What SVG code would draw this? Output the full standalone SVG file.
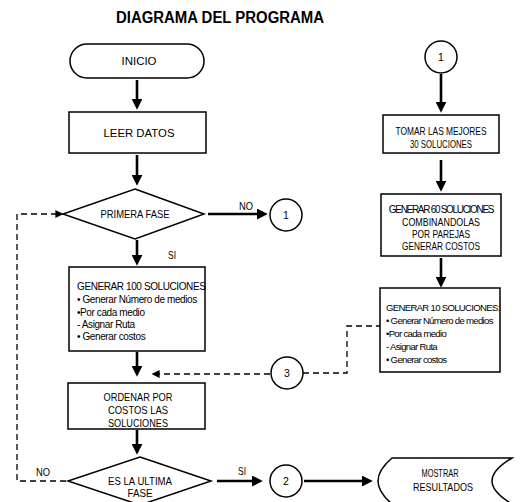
<svg xmlns="http://www.w3.org/2000/svg" width="521" height="502" viewBox="0 0 521 502">
<style>
  .bg{fill:#fff}
  .shape{fill:#fff;stroke:#000;stroke-width:1.5}
  .t{font-family:"Liberation Sans",Arial,sans-serif;font-size:10.5px;fill:#000;text-anchor:middle}
  .tc{font-family:"Liberation Sans",Arial,sans-serif;font-size:10px;fill:#000;text-anchor:middle;letter-spacing:-1.3px}
  .tl{font-family:"Liberation Sans",Arial,sans-serif;font-size:10px;fill:#000;letter-spacing:-0.4px}
  .tr{font-family:"Liberation Sans",Arial,sans-serif;font-size:9.6px;fill:#000;letter-spacing:-0.7px}
  .title{font-family:"Liberation Sans",Arial,sans-serif;font-size:16px;font-weight:bold;fill:#000;text-anchor:middle}
  .flow{fill:none;stroke:#000;stroke-width:2.6;marker-end:url(#ah)}
  .dash{fill:none;stroke:#000;stroke-width:1.3;stroke-dasharray:6 4}
</style>
<defs>
  <marker id="ah" viewBox="0 0 10 10" markerUnits="userSpaceOnUse" markerWidth="11" markerHeight="11" refX="2" refY="5" orient="auto">
    <path d="M0,0 L10,5 L0,10 z" fill="#000"/>
  </marker>
  <marker id="ahs" viewBox="0 0 10 10" markerUnits="userSpaceOnUse" markerWidth="8" markerHeight="8" refX="2" refY="5" orient="auto">
    <path d="M0,0 L10,5 L0,10 z" fill="#000"/>
  </marker>
</defs>
<rect class="bg" x="0" y="0" width="521" height="502"/>
<text class="title" x="220" y="23" textLength="208" lengthAdjust="spacingAndGlyphs">DIAGRAMA DEL PROGRAMA</text>

<g id="connectors">
  <path class="flow" d="M137 80 V101"/>
  <path class="flow" d="M137 155 V177"/>
  <path class="flow" d="M208 214 H259"/>
  <path class="flow" d="M137 240 V257"/>
  <path class="flow" d="M137 352 V368"/>
  <path class="flow" d="M137 430 V446"/>
  <path class="flow" d="M217 481 H254"/>
  <path class="flow" d="M304 481 H364"/>
  <path class="flow" d="M441 74 V104"/>
  <path class="flow" d="M441 160 V183"/>
  <path class="flow" d="M441 258 V279"/>
  <path class="dash" d="M66 481 H17 V214 H57" marker-end="url(#ahs)"/>
  <path class="dash" d="M270 374 H158" marker-end="url(#ahs)"/>
  <path class="dash" d="M303 373 H347 V326 H380"/>
  <text class="t" x="246" y="210" textLength="14" lengthAdjust="spacingAndGlyphs">NO</text>
  <text class="t" x="172" y="259" textLength="8" lengthAdjust="spacingAndGlyphs">SI</text>
  <text class="t" x="43" y="476" textLength="14" lengthAdjust="spacingAndGlyphs">NO</text>
  <text class="t" x="242" y="475" textLength="8" lengthAdjust="spacingAndGlyphs">SI</text>
</g>

<g id="inicio">
  <rect class="shape" x="70" y="44" width="134" height="34" rx="17"/>
  <text class="t" x="139" y="65" textLength="35" lengthAdjust="spacingAndGlyphs">INICIO</text>
</g>
<g id="leer-datos">
  <rect class="shape" x="69" y="112" width="137" height="41"/>
  <text class="t" x="139" y="137" textLength="71" lengthAdjust="spacingAndGlyphs">LEER DATOS</text>
</g>
<g id="primera-fase">
  <polygon class="shape" points="135,189 204,214 135,239 63,214"/>
  <text class="t" x="135" y="218" textLength="69" lengthAdjust="spacingAndGlyphs">PRIMERA FASE</text>
</g>
<g id="conector-1a">
  <circle class="shape" cx="286" cy="215" r="16"/>
  <text class="t" x="286" y="219">1</text>
</g>
<g id="generar-100">
  <rect class="shape" x="69" y="267" width="136" height="84"/>
  <text class="tl" x="77" y="290">GENERAR 100 SOLUCIONES</text>
  <text class="tl" x="77" y="303">• Generar Número de medios</text>
  <text class="tl" x="77" y="316">•Por cada medio</text>
  <text class="tl" x="77" y="328"> - Asignar Ruta</text>
  <text class="tl" x="77" y="340">• Generar costos</text>
</g>
<g id="ordenar">
  <rect class="shape" x="68" y="383" width="137" height="46"/>
  <text class="t" x="138" y="401" textLength="69" lengthAdjust="spacingAndGlyphs">ORDENAR POR</text>
  <text class="t" x="138" y="414" textLength="60" lengthAdjust="spacingAndGlyphs">COSTOS LAS</text>
  <text class="t" x="138" y="427" textLength="60" lengthAdjust="spacingAndGlyphs">SOLUCIONES</text>
</g>
<g id="ultima-fase">
  <polygon class="shape" points="140,457 211,481 140,505 68,481"/>
  <text class="t" x="140" y="485" textLength="64" lengthAdjust="spacingAndGlyphs">ES LA ULTIMA</text>
  <text class="t" x="140" y="497" textLength="25" lengthAdjust="spacingAndGlyphs">FASE</text>
</g>
<g id="conector-2">
  <circle class="shape" cx="286" cy="481" r="16"/>
  <text class="t" x="286" y="485">2</text>
</g>
<g id="conector-3">
  <circle class="shape" cx="287" cy="373" r="16"/>
  <text class="t" x="287" y="377">3</text>
</g>
<g id="mostrar">
  <path class="shape" d="M392 458 H512 Q492 470 492 481 Q492 492 512 504 H392 Q378 492 378 481 Q378 470 392 458 Z"/>
  <text class="t" x="440" y="477" textLength="37" lengthAdjust="spacingAndGlyphs">MOSTRAR</text>
  <text class="t" x="443" y="491" textLength="60" lengthAdjust="spacingAndGlyphs">RESULTADOS</text>
</g>
<g id="conector-1b">
  <circle class="shape" cx="441" cy="57" r="16"/>
  <text class="t" x="441" y="61">1</text>
</g>
<g id="tomar">
  <rect class="shape" x="383" y="115" width="116" height="38"/>
  <text class="t" x="441" y="135" textLength="91" lengthAdjust="spacingAndGlyphs">TOMAR LAS MEJORES</text>
  <text class="t" x="441" y="148" textLength="62" lengthAdjust="spacingAndGlyphs">30 SOLUCIONES</text>
</g>
<g id="generar-60">
  <rect class="shape" x="381" y="194" width="120" height="62"/>
  <text class="tc" x="441" y="213">GENERAR 60 SOLUCIONES</text>
  <text class="t" x="441" y="226" textLength="78" lengthAdjust="spacingAndGlyphs">COMBINANDOLAS</text>
  <text class="t" x="441" y="238" textLength="58" lengthAdjust="spacingAndGlyphs">POR PAREJAS</text>
  <text class="t" x="441" y="250" textLength="78" lengthAdjust="spacingAndGlyphs">GENERAR COSTOS</text>
</g>
<g id="generar-10">
  <rect class="shape" x="380" y="288" width="120" height="84"/>
  <text class="tr" x="386" y="311">GENERAR 10 SOLUCIONES:</text>
  <text class="tr" x="386" y="324">• Generar Número de medios</text>
  <text class="tr" x="386" y="337">•Por cada medio</text>
  <text class="tr" x="386" y="350"> - Asignar Ruta</text>
  <text class="tr" x="386" y="363">• Generar costos</text>
</g>
</svg>
